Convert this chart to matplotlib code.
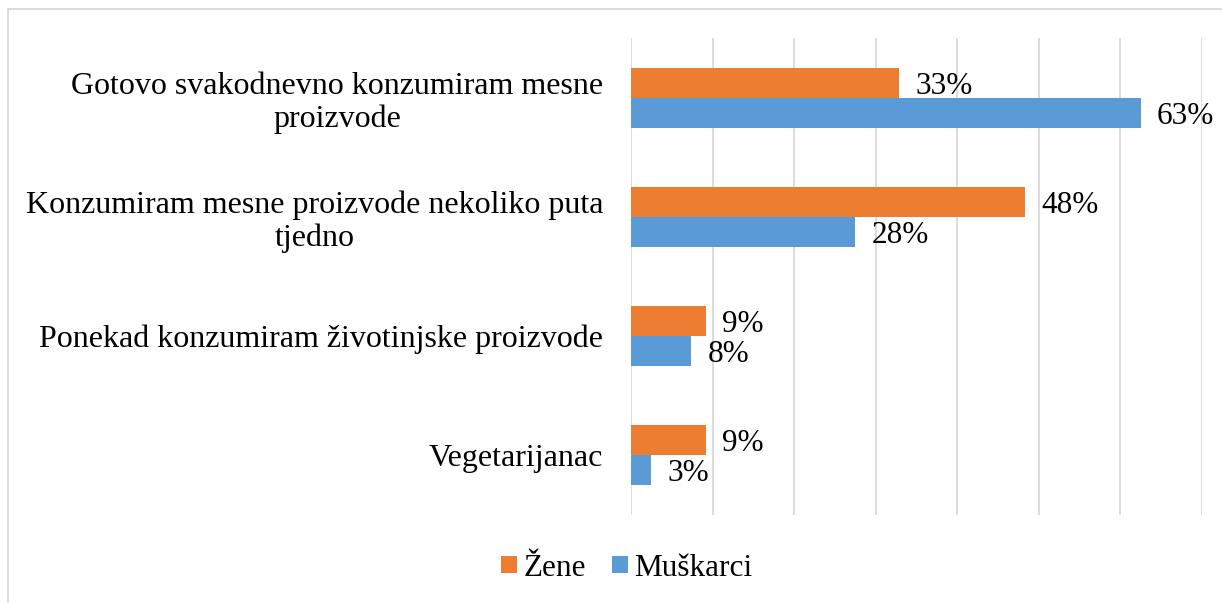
import numpy as np
import matplotlib
matplotlib.use('Agg')
import matplotlib.pyplot as plt
from matplotlib.patches import Rectangle

plt.rcParams['font.family'] = ['Liberation Serif', 'DejaVu Serif']

categories = ['Gotovo svakodnevno konzumiram mesne\nproizvode',
              'Konzumiram mesne proizvode nekoliko puta\ntjedno',
              'Ponekad konzumiram životinjske proizvode',
              'Vegetarijanac']
zene = [32.9, 48.3, 9.2, 9.2]
muskarci = [62.5, 27.5, 7.4, 2.5]
zene_labels = ['33%', '48%', '9%', '9%']
muskarci_labels = ['63%', '28%', '8%', '3%']

orange = '#ED7D31'
blue = '#5B9BD5'
fs = 22.5

fig = plt.figure(figsize=(12.22, 6.03), dpi=100)
ax = fig.add_axes([0.5164, 0.146, 0.4672, 0.791])

y = np.arange(len(categories))
h = 0.252
b1 = ax.barh(y - h / 2, zene, height=h, color=orange, label='Žene')
b2 = ax.barh(y + h / 2, muskarci, height=h, color=blue, label='Muškarci')

for bars, labels in ((b1, zene_labels), (b2, muskarci_labels)):
    for bar, lab in zip(bars, labels):
        ax.text(bar.get_width() + 2.0, bar.get_y() + bar.get_height() / 2 + 0.03,
                lab, va='center', ha='left', fontsize=fs, color='#000000')

ax.set_xlim(0, 70)
ax.set_ylim(3.5, -0.5)
ax.set_xticks(np.arange(0, 71, 10))
ax.set_xticklabels([])
ax.grid(axis='x', color='#D9D9D9', linewidth=1.3)
ax.set_axisbelow(True)
ax.set_yticks(y)
ax.set_yticklabels(categories, fontsize=23)
for lab in ax.get_yticklabels():
    lab.set_multialignment('center')
    lab.set_linespacing(1.15)
ax.tick_params(axis='both', length=0, pad=20)
for s in ax.spines.values():
    s.set_visible(False)

leg = fig.legend(handles=[b1, b2], loc='center', bbox_to_anchor=(0.513, 0.058),
                 ncol=2, frameon=False, fontsize=fs, handlelength=0.5,
                 handleheight=0.5, handletextpad=0.2, columnspacing=0.85)

# outer chart border
fig.patches.append(Rectangle((8 / 1222, -0.1), 1.2, (603 - 9) / 603 + 0.1,
                             transform=fig.transFigure, fill=False,
                             edgecolor='#D9D9D9', linewidth=1.3))

fig.savefig('out.png', dpi=100)
